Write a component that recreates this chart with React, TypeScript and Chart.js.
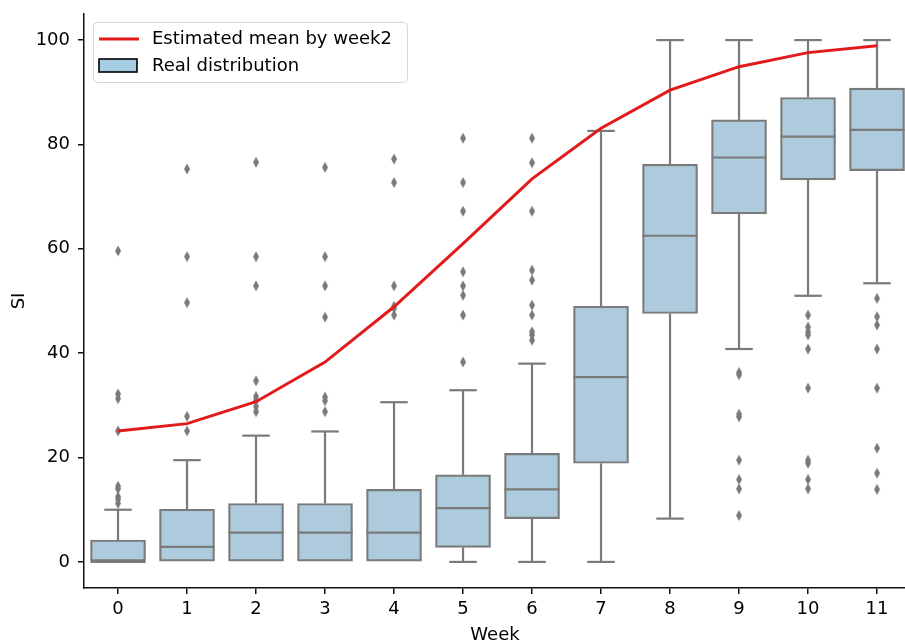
import React, { useEffect, useRef } from "react";
import { Chart, registerables } from "chart.js";

Chart.register(...registerables);

const weeks = [0, 1, 2, 3, 4, 5, 6, 7, 8, 9, 10, 11];
const q1 = [0, 0, 0, 0, 0, 2.8, 8.3, 18.9, 47.6, 66.7, 73.2, 75.0];
const medians = [0, 2.9, 5.6, 5.6, 5.6, 10.3, 13.9, 35.4, 62.5, 77.5, 81.5, 82.8];
const q3 = [4.2, 10.1, 11.2, 11.2, 13.9, 16.7, 20.8, 49.0, 76.2, 84.7, 89.0, 90.8];
const whiskerLow = [0, 0, 0, 0, 0, 0, 0, 0, 8.3, 40.8, 51.0, 53.4];
const whiskerHigh = [10.0, 19.5, 24.2, 25.0, 30.6, 32.9, 38.0, 82.6, 100, 100, 100, 100];
const outliers = [
  [11.2, 12.0, 12.5, 14.0, 14.5, 25.1, 31.3, 32.2, 59.6],
  [25.1, 27.9, 49.7, 58.5, 75.3],
  [28.8, 29.8, 31.0, 31.7, 34.7, 52.9, 58.5, 76.6],
  [28.8, 30.9, 31.6, 46.9, 52.9, 58.5, 75.6],
  [47.3, 48.6, 49.0, 52.9, 72.7, 77.2],
  [38.3, 47.3, 51.1, 52.9, 55.6, 67.2, 72.7, 81.2],
  [42.5, 43.5, 44.1, 47.3, 49.2, 54.0, 55.9, 67.2, 76.5, 81.2],
  [],
  [],
  [8.9, 14.0, 15.8, 19.5, 27.8, 28.3, 35.9, 36.3],
  [14.0, 15.8, 18.9, 19.5, 33.3, 40.8, 43.5, 44.1, 45.0, 47.3],
  [13.9, 17.0, 21.8, 33.3, 40.8, 45.4, 47.0, 50.5],
];
const estimatedMean = [25.1, 26.5, 30.7, 38.3, 48.9, 61.0, 73.4, 83.1, 90.4, 94.9, 97.6, 98.9];
const yTicks = [0, 20, 40, 60, 80, 100];

const BOX_FILL = "#adcbdc";
const LEGEND_FILL = "#a6cee3";
const BOX_EDGE = "#7a7a7a";
const LINE_RED = "#e31a1c";
const AXIS = "#111";
const FONT = "'DejaVu Sans', sans-serif";
const FS = 18;

export default function App() {
  const canvasRef = useRef<HTMLCanvasElement | null>(null);

  useEffect(() => {
    const canvas = canvasRef.current;
    if (!canvas) return;

    const diamond = document.createElement("canvas");
    diamond.width = 8;
    diamond.height = 12;
    const dctx = diamond.getContext("2d")!;
    dctx.fillStyle = BOX_EDGE;
    dctx.beginPath();
    dctx.moveTo(4, 0.5);
    dctx.lineTo(7, 6);
    dctx.lineTo(4, 11.5);
    dctx.lineTo(1, 6);
    dctx.closePath();
    dctx.fill();

    const boxPlugin = {
      id: "boxDetails",
      afterDatasetDraw(chart: any, args: any) {
        if (args.index !== 0) return;
        const ctx = chart.ctx;
        const xs = chart.scales.x;
        const ys = chart.scales.y;
        const meta = chart.getDatasetMeta(0);
        ctx.save();
        ctx.strokeStyle = BOX_EDGE;
        ctx.lineWidth = 2.2;
        ctx.lineCap = "butt";
        weeks.forEach((w, i) => {
          const cx = xs.getPixelForValue(w);
          const half = (meta.data[i] as any).width / 2;
          const capHalf = half / 2;
          const seg = (x1: number, y1: number, x2: number, y2: number) => {
            ctx.beginPath();
            ctx.moveTo(x1, y1);
            ctx.lineTo(x2, y2);
            ctx.stroke();
          };
          const yq1 = ys.getPixelForValue(q1[i]);
          const yq3 = ys.getPixelForValue(q3[i]);
          const yhi = ys.getPixelForValue(whiskerHigh[i]);
          const ylo = ys.getPixelForValue(whiskerLow[i]);
          const ymed = ys.getPixelForValue(medians[i]);
          if (whiskerHigh[i] > q3[i]) {
            seg(cx, yq3, cx, yhi);
            seg(cx - capHalf, yhi, cx + capHalf, yhi);
          }
          if (whiskerLow[i] < q1[i]) {
            seg(cx, yq1, cx, ylo);
            seg(cx - capHalf, ylo, cx + capHalf, ylo);
          }
          seg(cx - half, ymed, cx + half, ymed);
        });
        ctx.restore();
      },
    };

    const legendPlugin = {
      id: "insideLegend",
      afterDraw(chart: any) {
        const ctx = chart.ctx;
        const area = chart.chartArea;
        const x0 = area.left + 9;
        const y0 = area.top + 8;
        const w = 314;
        const h = 60;
        ctx.save();
        ctx.beginPath();
        ctx.roundRect(x0 + 0.5, y0 + 0.5, w, h, 4);
        ctx.fillStyle = "rgba(255,255,255,0.8)";
        ctx.fill();
        ctx.strokeStyle = "#d6d6d6";
        ctx.lineWidth = 1;
        ctx.stroke();

        const lineDs = chart.data.datasets[2];
        const barDs = chart.data.datasets[0];
        ctx.strokeStyle = LINE_RED;
        ctx.lineWidth = 3;
        ctx.beginPath();
        ctx.moveTo(x0 + 6, y0 + 17);
        ctx.lineTo(x0 + 46, y0 + 17);
        ctx.stroke();

        ctx.fillStyle = LEGEND_FILL;
        ctx.fillRect(x0 + 6, y0 + 37, 38, 13);
        ctx.strokeStyle = "#000";
        ctx.lineWidth = 1.6;
        ctx.strokeRect(x0 + 6, y0 + 37, 38, 13);

        ctx.fillStyle = "#000";
        ctx.font = `${FS}px ${FONT}`;
        ctx.textBaseline = "middle";
        ctx.textAlign = "left";
        ctx.fillText(lineDs.label, x0 + 59, y0 + 17);
        ctx.fillText(barDs.label, x0 + 59, y0 + 44);
        ctx.restore();
      },
    };

    const chart = new Chart(canvas, {
      type: "bar",
      data: {
        datasets: [
          {
            type: "bar",
            label: "Real distribution",
            data: weeks.map((w, i) => ({ x: w, y: [q1[i], q3[i]] })) as any,
            backgroundColor: BOX_FILL,
            borderColor: BOX_EDGE,
            borderWidth: 2.2,
            borderSkipped: false,
            barThickness: 55,
            order: 2,
          } as any,
          {
            type: "scatter",
            label: "Outliers",
            data: weeks.flatMap((w, i) => outliers[i].map((v) => ({ x: w, y: v }))),
            pointStyle: diamond as any,
            order: 1,
          } as any,
          {
            type: "line",
            label: "Estimated mean by week2",
            data: weeks.map((w, i) => ({ x: w, y: estimatedMean[i] })),
            borderColor: LINE_RED,
            borderWidth: 3,
            pointRadius: 0,
            tension: 0,
            fill: false,
            order: 0,
          } as any,
        ],
      },
      options: {
        responsive: false,
        animation: false,
        layout: { padding: { top: 14, left: 0, right: 0, bottom: 0 } },
        plugins: {
          legend: { display: false },
          tooltip: { enabled: false },
        },
        scales: {
          x: {
            type: "linear",
            min: -0.493,
            max: 11.42,
            offset: false,
            afterBuildTicks(scale: any) {
              scale.ticks = weeks.map((v) => ({ value: v }));
            },
            afterFit(scale: any) {
              scale.height = 56;
              scale.paddingLeft = 0;
              scale.paddingRight = 0;
            },
            ticks: {
              font: { family: FONT, size: FS },
              color: "#000",
              padding: 5,
              maxRotation: 0,
              autoSkip: false,
              callback: (v: any) => String(v),
            },
            grid: {
              offset: false,
              drawOnChartArea: false,
              drawTicks: true,
              tickLength: 6,
              color: AXIS,
              lineWidth: 1.5,
            },
            border: { display: true, color: AXIS, width: 1.5 },
            title: {
              display: true,
              text: "Week",
              font: { family: FONT, size: FS },
              color: "#000",
              padding: { top: 0, bottom: -2 },
            },
          },
          y: {
            type: "linear",
            min: -5,
            max: 105,
            afterBuildTicks(scale: any) {
              scale.ticks = yTicks.map((v) => ({ value: v }));
            },
            afterFit(scale: any) {
              scale.width = 84;
              scale.paddingTop = 0;
              scale.paddingBottom = 0;
            },
            ticks: {
              font: { family: FONT, size: FS },
              color: "#000",
              padding: 8,
              callback: (v: any) => String(v),
            },
            grid: {
              drawOnChartArea: false,
              drawTicks: true,
              tickLength: 6,
              color: AXIS,
              lineWidth: 1.5,
            },
            border: { display: true, color: AXIS, width: 1.5 },
            title: {
              display: true,
              text: "SI",
              font: { family: FONT, size: FS },
              color: "#000",
              padding: { top: 9, bottom: 0 },
            },
          },
        },
      },
      plugins: [boxPlugin, legendPlugin],
    });

    return () => chart.destroy();
  }, []);

  return (
    <div
      style={{
        position: "absolute",
        left: 0,
        top: 0,
        width: 905,
        height: 644,
        overflow: "hidden",
        background: "#fff",
      }}
    >
      <canvas ref={canvasRef} width={911} height={644} style={{ display: "block" }} />
    </div>
  );
}
